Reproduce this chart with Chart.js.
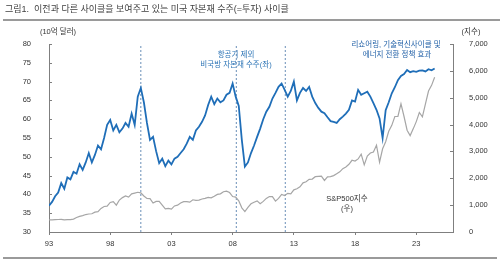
<!DOCTYPE html>
<html>
<head>
<meta charset="utf-8">
<script src="https://cdn.jsdelivr.net/npm/chart.js@4"></script>
<style>
html,body{margin:0;padding:0;background:#fff;}
#wrap{width:500px;height:264px;position:relative;}
</style>
</head>
<body>
<div id="wrap"><canvas id="myChart"></canvas></div>
<script>
// 분기별 값 (1993Q1 ~ 2024Q3)
var inicio = 1993;
var paso = 0.25;

// 항공기 제외 비국방 자본재 수주 (10억 달러, 좌)
var pedidos = [
    37.0, 38.0, 39.5, 40.5,
    43.0, 41.5, 44.5, 44.0,
    46.0, 45.5, 48.0, 46.5,
    48.5, 51.0, 48.5, 50.5,
    53.0, 52.0, 55.0, 58.5,
    59.8, 57.0, 58.5, 56.5,
    57.5, 59.0, 58.0, 61.5,
    58.5, 66.0, 68.3, 64.5,
    59.0, 54.5, 55.3, 51.5,
    48.3, 49.5, 47.5, 49.0,
    48.0, 49.5, 50.0, 51.0,
    52.0, 53.5, 55.3, 54.5,
    57.0, 58.0, 59.3, 61.0,
    63.8, 66.0, 64.0, 65.5,
    64.5, 65.0, 66.5, 67.0,
    69.5, 66.0, 63.5, 54.5,
    47.4, 48.5, 51.0, 53.0,
    55.3, 57.5, 60.0, 62.0,
    63.3, 65.5, 67.0, 68.6,
    69.5, 67.8, 66.0, 67.5,
    70.0, 65.0, 67.0, 68.3,
    67.5, 68.6, 66.0, 64.3,
    63.0, 62.0, 61.6, 60.5,
    59.5, 59.3, 59.0, 60.0,
    60.7, 61.5, 62.5, 65.0,
    64.7, 67.8, 66.5, 66.9,
    67.3, 66.0, 64.3, 62.5,
    60.2, 55.0, 62.4, 64.5,
    66.9, 68.5, 70.4, 71.5,
    72.0, 73.1, 72.5, 72.8,
    72.6, 72.9, 73.0, 72.7,
    73.3, 73.0, 73.5
];

// S&P500지수 (우)
var sp500 = [
    450, 450, 460, 465,
    470, 450, 460, 460,
    480, 540, 580, 610,
    650, 670, 680, 740,
    760, 880, 950, 960,
    1100, 1130, 1000, 1190,
    1280, 1340, 1300, 1420,
    1450, 1480, 1460, 1340,
    1250, 1240, 1080, 1140,
    1140, 1000, 860, 880,
    850, 970, 1000, 1080,
    1130, 1130, 1110, 1200,
    1180, 1190, 1230, 1250,
    1290, 1270, 1330, 1400,
    1420, 1500, 1520, 1470,
    1320, 1300, 1160, 900,
    760, 920, 1050, 1110,
    1160, 1050, 1140, 1250,
    1320, 1320, 1150, 1250,
    1400, 1360, 1440, 1420,
    1570, 1610, 1680, 1830,
    1870, 1960, 1970, 2060,
    2070, 2080, 1920, 2050,
    2060, 2100, 2170, 2240,
    2360, 2420, 2520, 2670,
    2640, 2720, 2900, 2500,
    2830, 2940, 2980, 3230,
    2600, 3100, 3360, 3750,
    3970, 4300, 4300, 4770,
    4300, 3790, 3590, 3840,
    4110, 4450, 4290, 4770,
    5250, 5460, 5760
];

var eventos = [2000.5, 2008.3, 2012.3];
var anosTicks = [1993, 1998, 2003, 2008, 2013, 2018, 2023];

var fuente = "'Liberation Sans', 'Noto Sans CJK KR', sans-serif";

function aPuntos(serie){
    var pts = [];
    for(var i = 0; i < serie.length; i++){
        pts.push({x: inicio + i*paso, y: serie[i]});
    }
    return pts;
}

var datasets = [];
for(var e = 0; e < eventos.length; e++){
    datasets.push({
        data: [{x: eventos[e], y: 30}, {x: eventos[e], y: 80}],
        yAxisID: 'y',
        borderColor: '#6A8FB8',
        borderWidth: 1,
        borderDash: [2, 2],
        pointRadius: 0,
        order: 3
    });
}
datasets.push({
    label: 'S&P500지수',
    data: aPuntos(sp500),
    yAxisID: 'y2',
    borderColor: '#A6A6A6',
    borderWidth: 1.2,
    pointRadius: 0,
    tension: 0,
    order: 2
});
datasets.push({
    label: '비국방 자본재 수주',
    data: aPuntos(pedidos),
    yAxisID: 'y',
    borderColor: '#1F6EB8',
    borderWidth: 1.8,
    pointRadius: 0,
    tension: 0,
    order: 1
});

var textos = {
    id: 'textos',
    afterDraw: function(chart){
        var c = chart.ctx;
        var a = chart.chartArea;
        c.save();
        // lineas superior e inferior
        c.fillStyle = '#9A9A9A';
        c.fillRect(3, 19, 497, 2);
        c.fillRect(3, 257, 494, 2);
        // titulo
        c.fillStyle = '#404040';
        c.font = '9px ' + fuente;
        c.textAlign = 'left';
        c.textBaseline = 'middle';
        c.fillText('그림1.  이전과 다른 사이클을 보여주고 있는 미국 자본재 수주(=투자) 사이클', 5, 10);
        c.font = '7.5px ' + fuente;
        c.fillStyle = '#333';
        c.textAlign = 'center';
        c.fillText('(10억 달러)', 58, 32);
        c.fillText('(지수)', 471, 32);
        // anotaciones
        c.fillStyle = '#2E75B6';
        c.fillText('항공기 제외', 236, 55);
        c.fillText('비국방 자본재 수주(좌)', 236, 65);
        c.fillStyle = '#2462A8';
        c.fillText('리쇼어링, 기술혁신사이클 및', 396, 45);
        c.fillText('에너지 전환 정책 효과', 397, 55);
        c.fillStyle = '#333';
        c.fillText('S&P500지수', 347, 199);
        c.fillText('(우)', 347, 209);
        // ticks hacia adentro en ejes y
        c.strokeStyle = '#7F7F7F';
        c.lineWidth = 1;
        var y1 = chart.scales.y, y2 = chart.scales.y2;
        c.beginPath();
        y1.ticks.forEach(function(t){
            var py = Math.round(y1.getPixelForValue(t.value)) + 0.5;
            c.moveTo(a.left, py); c.lineTo(a.left + 3, py);
        });
        y2.ticks.forEach(function(t){
            var py = Math.round(y2.getPixelForValue(t.value)) + 0.5;
            c.moveTo(a.right, py); c.lineTo(a.right - 3, py);
        });
        c.stroke();
        c.restore();
    }
};

var ctx = document.getElementById('myChart').getContext('2d');
var myChart = new Chart(ctx, {
    type: 'line',
    data: { datasets: datasets },
    options: {
        responsive: true,
        maintainAspectRatio: false,
        animation: false,
        layout: { padding: { top: 44, bottom: 14, left: 0, right: 0 } },
        plugins: {
            legend: { display: false },
            tooltip: { enabled: false }
        },
        scales: {
            x: {
                type: 'linear',
                min: 1993,
                max: 2026,
                afterBuildTicks: function(s){
                    s.ticks = anosTicks.map(function(v){ return {value: v}; });
                },
                afterFit: function(s){ s.height = 18; },
                ticks: {
                    color: '#333',
                    font: { size: 7.5, family: fuente },
                    padding: 4,
                    maxRotation: 0,
                    callback: function(v){ return String(v).slice(2); }
                },
                grid: { display: true, drawOnChartArea: false, tickLength: 3, color: '#7F7F7F' },
                border: { color: '#7F7F7F', width: 1 }
            },
            y: {
                position: 'left',
                min: 30,
                max: 80,
                afterFit: function(s){ s.width = 49; },
                ticks: {
                    stepSize: 5,
                    color: '#333',
                    font: { size: 7.5, family: fuente },
                    padding: 10
                },
                grid: { display: false },
                border: { color: '#7F7F7F', width: 1 }
            },
            y2: {
                position: 'right',
                min: 0,
                max: 7000,
                afterFit: function(s){ s.width = 47; },
                ticks: {
                    stepSize: 1000,
                    color: '#333',
                    font: { size: 7.5, family: fuente },
                    padding: 8,
                    callback: function(v){ return v.toLocaleString('en-US'); }
                },
                grid: { display: false },
                border: { color: '#7F7F7F', width: 1 }
            }
        }
    },
    plugins: [textos]
});
</script>
</body>
</html>
